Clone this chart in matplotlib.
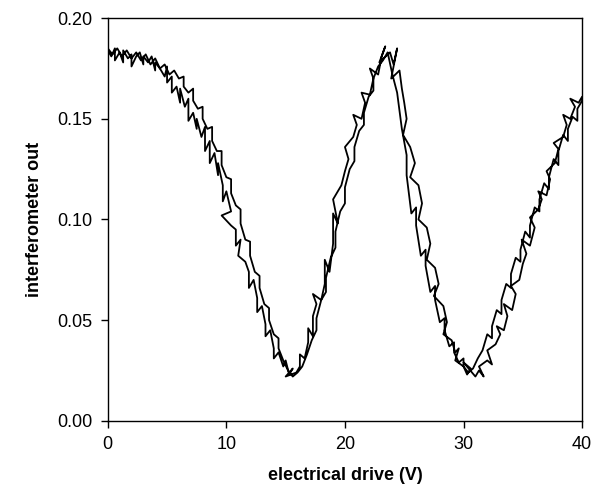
import matplotlib
matplotlib.use("Agg")
import matplotlib.pyplot as plt

# forward sweep: drive voltage (V) and interferometer output
drive = [
    0, 0.3, 0.6, 0.6, 1.0, 1.3, 1.3, 1.7, 2.0, 2.0, 2.4, 2.7, 3.0, 3.0, 3.4, 3.7, 4.0, 4.0, 4.4, 4.8, 5.0, 5.0,
    5.4, 5.4, 5.8, 6.1, 6.1, 6.5, 6.8, 6.8, 7.2, 7.5, 7.5, 7.9, 8.2, 8.2, 8.6, 8.6, 9.0, 9.3, 9.3, 9.7, 9.7, 10.0,
    10.4, 9.6, 10.4, 10.8, 10.8, 11.2, 11.0, 11.6, 11.9, 11.9, 12.3, 12.6, 12.6, 13.0, 13.3, 13.3, 13.7, 14.0, 14.0, 14.4, 14.8, 15.0,
    15.3, 15.6, 15.0, 15.9, 16.2, 16.2, 16.6, 16.9, 16.9, 17.3, 17.3, 17.6, 17.3, 18.0, 18.3, 18.3, 18.7, 19.0, 19.0, 19.4, 19.0, 19.7, 20.0,
    20.3, 20.0, 20.7, 21.0, 20.7, 21.4, 21.7, 21.4, 22.1, 22.4, 22.1, 22.8, 23.1, 23.4, 22.9, 23.8, 24.1, 24.4, 23.9, 24.6, 24.8, 25.0,
    25.2, 24.9, 25.5, 25.9, 25.5, 26.2, 26.5, 26.2, 26.9, 27.2, 26.9, 27.6, 27.9, 27.5, 28.3, 28.6, 28.3, 29.0, 29.3, 29.6, 29.3, 30.0,
    30.3, 30.6, 30.0, 31.0, 31.3, 31.7, 31.3, 32.0, 32.4, 32.0, 32.7, 33.1, 32.8, 33.4, 33.7, 33.4, 34.1, 34.4, 34.0, 34.7, 35.0,
    35.3, 34.9, 35.6, 36.0, 35.6, 36.3, 36.6, 36.3, 37.0, 37.3, 37.0, 37.7, 38.0, 37.6, 38.4, 38.7, 38.4, 39.0, 39.4, 39.0, 39.7, 40.0,
]
signal = [
    0.184, 0.181, 0.185, 0.179, 0.183, 0.178, 0.184, 0.180, 0.182, 0.176, 0.181, 0.183, 0.177, 0.181, 0.178, 0.181, 0.174, 0.178, 0.175, 0.171, 0.176, 0.168,
    0.171, 0.163, 0.166, 0.158, 0.165, 0.156, 0.160, 0.149, 0.153, 0.145, 0.150, 0.141, 0.146, 0.134, 0.139, 0.128, 0.133, 0.122, 0.128, 0.117, 0.109, 0.114,
    0.104, 0.102, 0.097, 0.095, 0.087, 0.090, 0.082, 0.079, 0.074, 0.066, 0.070, 0.061, 0.054, 0.057, 0.048, 0.042, 0.045, 0.036, 0.031, 0.034, 0.027, 0.030,
    0.023, 0.026, 0.022, 0.024, 0.027, 0.033, 0.031, 0.039, 0.046, 0.042, 0.052, 0.058, 0.063, 0.060, 0.068, 0.080, 0.074, 0.088, 0.103, 0.098, 0.110, 0.117, 0.124,
    0.130, 0.136, 0.141, 0.147, 0.152, 0.150, 0.158, 0.163, 0.162, 0.170, 0.175, 0.172, 0.181, 0.186, 0.178, 0.183, 0.177, 0.185, 0.170, 0.174, 0.165, 0.158,
    0.150, 0.142, 0.136, 0.128, 0.121, 0.117, 0.108, 0.100, 0.096, 0.088, 0.080, 0.076, 0.068, 0.062, 0.057, 0.049, 0.043, 0.040, 0.034, 0.036, 0.030, 0.027,
    0.023, 0.026, 0.029, 0.022, 0.025, 0.022, 0.027, 0.030, 0.028, 0.035, 0.038, 0.043, 0.047, 0.045, 0.052, 0.058, 0.055, 0.063, 0.067, 0.070, 0.078,
    0.083, 0.090, 0.087, 0.096, 0.101, 0.105, 0.110, 0.114, 0.112, 0.120, 0.124, 0.128, 0.135, 0.138, 0.141, 0.147, 0.152, 0.150, 0.156, 0.160, 0.158, 0.161,
]

# return sweep (40 V back to 0 V), as (drive, signal) pairs
sweep_back = [
    (40.0, 0.159), (39.6, 0.155), (39.6, 0.149), (39.2, 0.151), (38.8, 0.145), (38.8, 0.139), (38.4, 0.142),
    (38.0, 0.134), (38.0, 0.127), (37.6, 0.130), (37.2, 0.121), (37.2, 0.115), (36.8, 0.118), (36.4, 0.110),
    (36.4, 0.104), (36.0, 0.106), (35.6, 0.097), (35.6, 0.091), (35.2, 0.094), (34.8, 0.085), (34.8, 0.079),
    (34.4, 0.081), (34.0, 0.073), (34.0, 0.066), (33.6, 0.068), (33.2, 0.060), (33.2, 0.053), (32.8, 0.055),
    (32.4, 0.047), (32.4, 0.041), (32.0, 0.043), (31.6, 0.035), (31.2, 0.031), (30.8, 0.026), (30.4, 0.024),
    (30.0, 0.027), (30.0, 0.031), (29.6, 0.029), (29.2, 0.034), (29.2, 0.039), (28.8, 0.037), (28.4, 0.045),
    (28.4, 0.051), (28.0, 0.049), (27.6, 0.060), (27.6, 0.067), (27.2, 0.064), (26.8, 0.077), (26.8, 0.085),
    (26.4, 0.082), (26.0, 0.097), (26.0, 0.106), (25.6, 0.103), (25.2, 0.122), (25.2, 0.132), (24.8, 0.145),
    (24.4, 0.163), (24.0, 0.172), (23.6, 0.183), (23.2, 0.179), (22.8, 0.176), (22.4, 0.170), (22.4, 0.164),
    (22.0, 0.161), (21.6, 0.153), (21.6, 0.147), (21.2, 0.144), (20.8, 0.136), (20.8, 0.129), (20.4, 0.125),
    (20.0, 0.116), (20.0, 0.108), (19.6, 0.104), (19.2, 0.094), (19.2, 0.086), (18.8, 0.081), (18.4, 0.071),
    (18.4, 0.064), (18.0, 0.060), (17.6, 0.051), (17.6, 0.045), (17.2, 0.040), (16.8, 0.033), (16.4, 0.027),
    (16.0, 0.024), (15.6, 0.022), (15.2, 0.025), (14.8, 0.030), (14.4, 0.036), (14.4, 0.041), (14.0, 0.043),
    (13.6, 0.050), (13.6, 0.056), (13.2, 0.058), (12.8, 0.066), (12.8, 0.072), (12.4, 0.074), (12.0, 0.082),
    (12.0, 0.089), (11.6, 0.090), (11.2, 0.098), (11.2, 0.105), (10.8, 0.107), (10.4, 0.113), (10.4, 0.120),
    (10.0, 0.121), (9.6, 0.127), (9.6, 0.134), (9.2, 0.134), (8.8, 0.139), (8.8, 0.146), (8.4, 0.145),
    (8.0, 0.150), (8.0, 0.156), (7.6, 0.155), (7.2, 0.159), (7.2, 0.165), (6.8, 0.163), (6.4, 0.166),
    (6.4, 0.171), (6.0, 0.170), (5.6, 0.174), (5.2, 0.172), (4.8, 0.177), (4.4, 0.175), (4.0, 0.180),
    (3.6, 0.177), (3.2, 0.182), (2.8, 0.179), (2.4, 0.183), (2.0, 0.180), (1.6, 0.184), (1.2, 0.181),
    (0.8, 0.185), (0.4, 0.182), (0.0, 0.185),
]

x_ticks = [0, 10, 20, 30, 40]
y_ticks = [0.00, 0.05, 0.10, 0.15, 0.20]

plt.rcParams['font.family'] = ['Liberation Sans', 'DejaVu Sans']

fig = plt.figure(figsize=(6.02, 5.04), dpi=100)
ax = fig.add_axes([0.179, 0.165, 0.788, 0.799])

# both sweeps drawn as one continuous trace
xs = drive + [p[0] for p in sweep_back]
ys = signal + [p[1] for p in sweep_back]
ax.plot(xs, ys, color='black', linewidth=1.3)

ax.set_xlim(0, 40)
ax.set_ylim(0, 0.20)
ax.set_xticks(x_ticks)
ax.set_yticks(y_ticks)
ax.set_yticklabels([f"{v:.2f}" for v in y_ticks])
ax.tick_params(direction='out', length=5, width=1, labelsize=13, pad=6)
for s in ax.spines.values():
    s.set_linewidth(1)

ax.set_xlabel('electrical drive (V)', fontsize=13, fontweight='bold', labelpad=10)
ax.set_ylabel('interferometer out', fontsize=13, fontweight='bold', labelpad=10)

fig.savefig('out.png', dpi=100)
